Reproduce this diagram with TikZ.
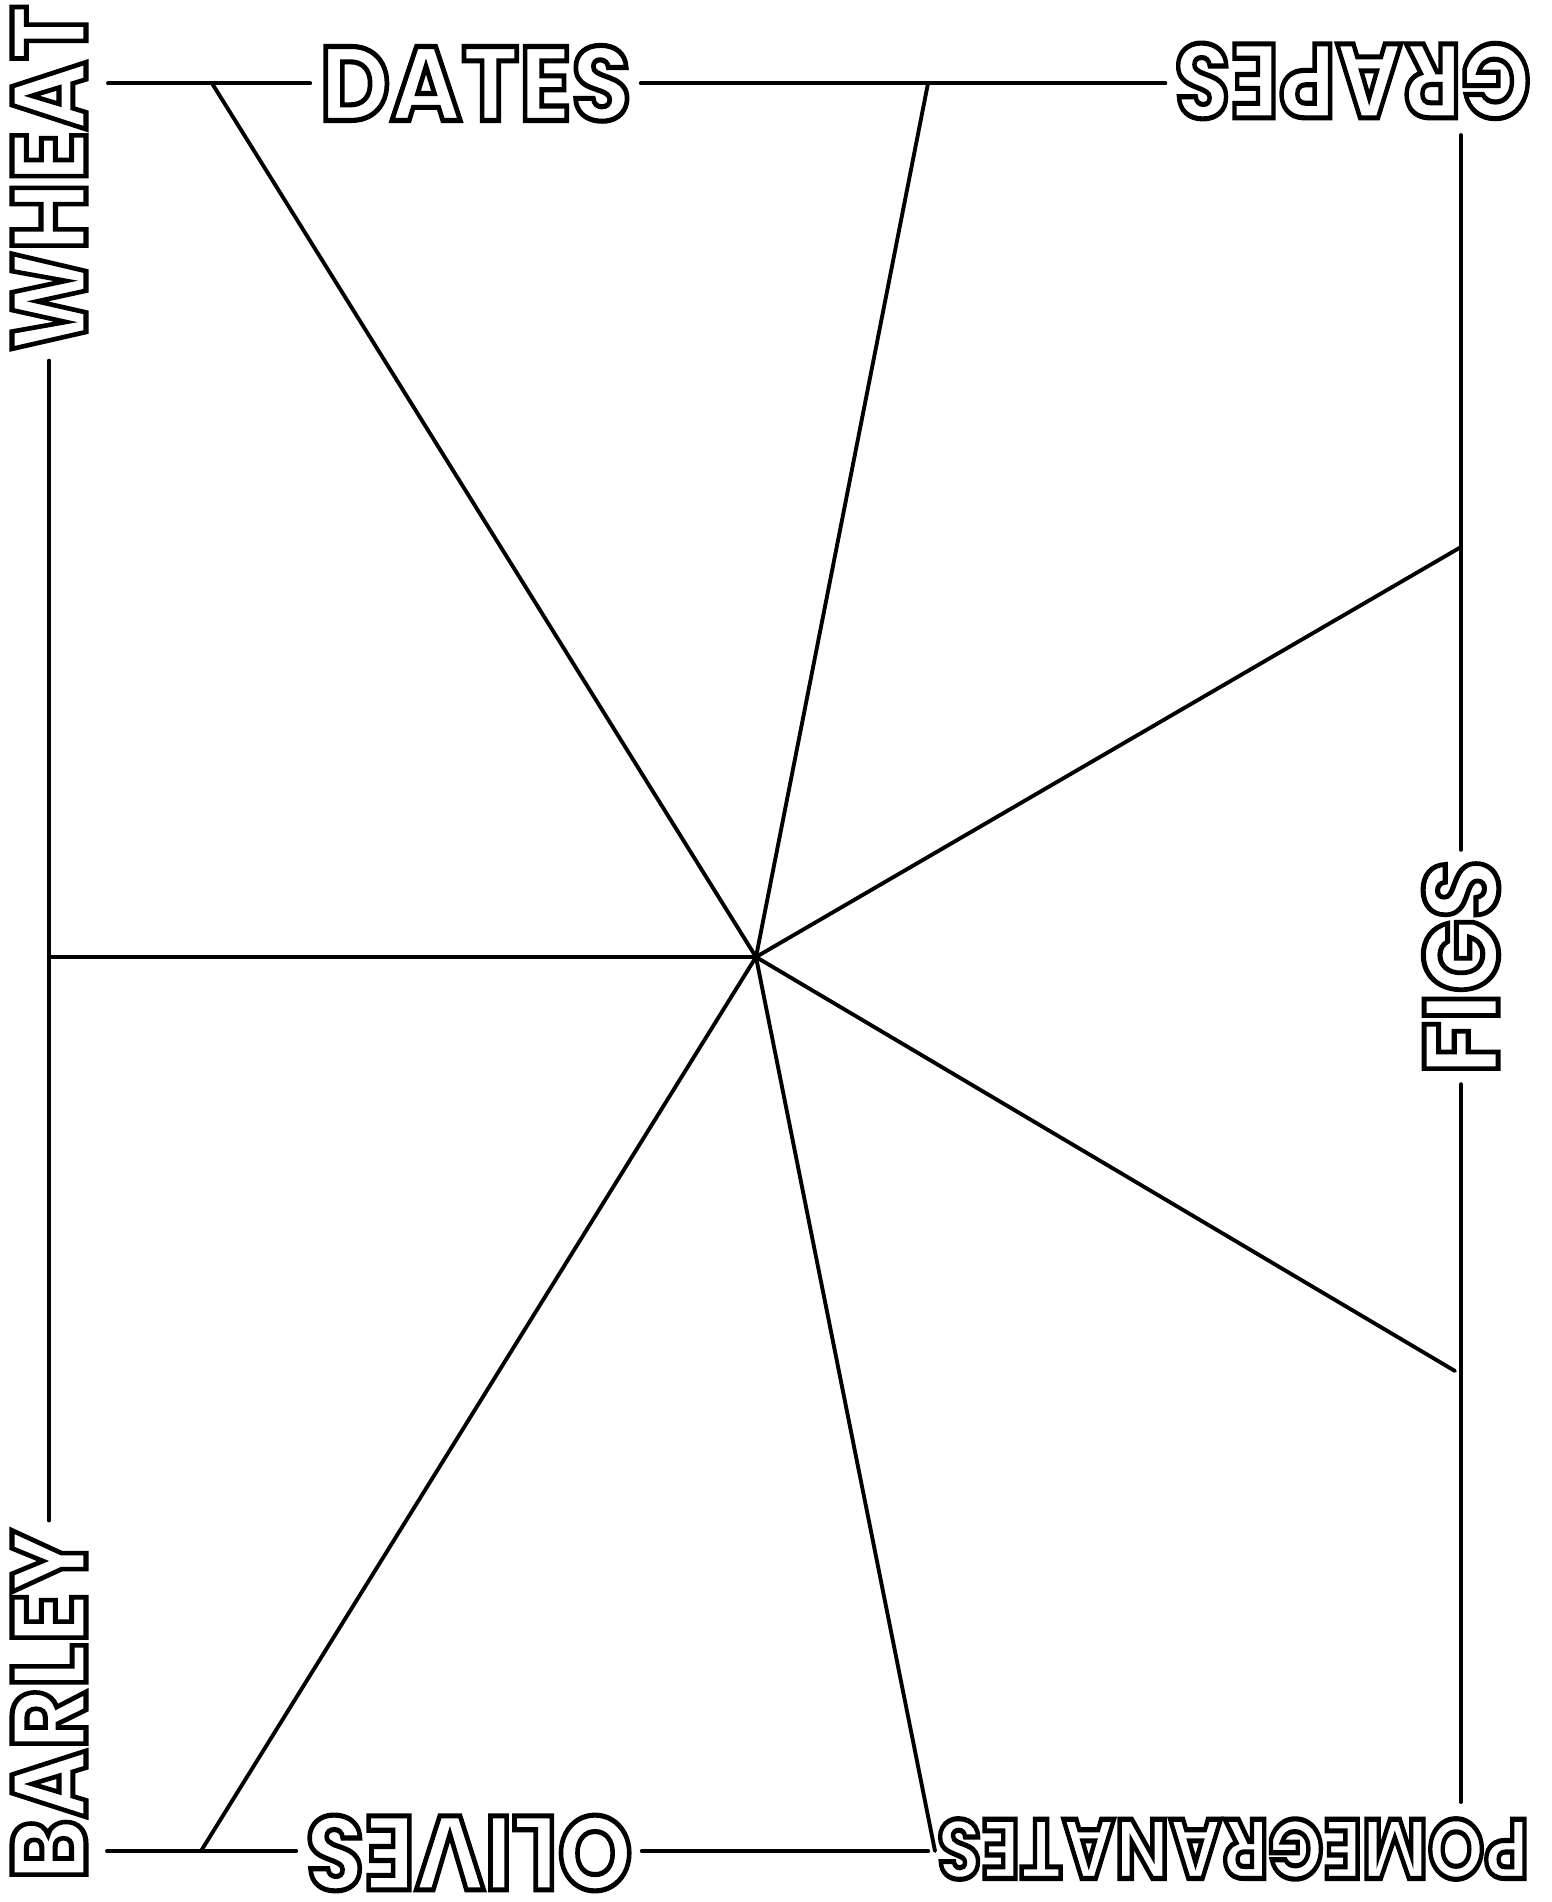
\documentclass[tikz,border=0pt]{standalone}
\usepackage{fontspec}
\usetikzlibrary{positioning,calc}
\newfontfamily\labelfont{Poppins}
% hollow letters: white fill, black stroke
\newcommand\hollow[1]{\special{pdf:literal direct 0 G 1 g 2 Tr 2.9 w}#1\special{pdf:literal direct 0 Tr}}

\begin{document}
\begin{tikzpicture}[
  lbl/.style={font=\labelfont\bfseries\fontsize{60}{60}\selectfont, text=white, inner sep=0.2cm},
  small lbl/.style={lbl, font=\labelfont\bfseries\fontsize{48}{48}\selectfont},
  rule/.style={black, line width=2.2pt, line cap=round},
]
\useasboundingbox (0,0) rectangle (31.02,-38.04);
% board: 1cm = 50px, y runs down
\coordinate (hub) at (15.12,-19.14);
\coordinate (c-tl) at (2.16,-1.666);
\coordinate (c-tr) at (29.22,-2.70);
\coordinate (c-bl) at (2.14,-37.02);
\coordinate (c-br) at (29.22,-36.04);

% labels round the board
\node[lbl, xscale=0.92] (dates) at (9.51,-1.666) {\hollow{DATES}};
\node[lbl, rotate=180, xscale=0.86] (grapes) at (27.05,-1.62) {\hollow{GRAPES}};
\node[lbl, rotate=90, xscale=0.9] (wheat) at (0.98,-3.56) {\hollow{WHEAT}};
\node[lbl, rotate=90, xscale=0.89] (barley) at (0.98,-34.1) {\hollow{BARLEY}};
\node[lbl, rotate=90, xscale=0.92] (figs) at (29.22,-19.34) {\hollow{FIGS}};
\node[lbl, rotate=180, xscale=0.9] (olives) at (9.38,-37.06) {\hollow{OLIVES}};
\node[small lbl, rotate=180, xscale=0.85] (pomegranates) at (24.66,-36.98) {\hollow{POMEGRANATES}};

% frame
\draw[rule] (c-tl) -- (c-tl -| dates.west);
\draw[rule] (c-tl -| dates.east) -- (c-tl -| grapes.east);
\draw[rule] (c-tr) -- (c-tr |- figs.east);
\draw[rule] (c-tr |- figs.west) -- (c-br);
\draw[rule] (wheat.west) -- (wheat.west |- barley.east);
\draw[rule] (c-bl) -- (c-bl -| olives.east);
\draw[rule] (c-bl -| olives.west) -- (c-bl -| pomegranates.east);

% spoke feet
\coordinate (f-dates) at (4.24,-1.666);
\coordinate (f-grapes) at (18.56,-1.666);
\coordinate (f-figsup) at (29.22,-10.94);
\coordinate (f-figsdn) at (29.1,-27.42);
\coordinate (f-pome) at (18.7,-37.02);
\coordinate (f-olives) at (4.02,-37.02);
\coordinate (f-wheat) at (0.98,-19.14);
\foreach \f in {f-dates,f-grapes,f-figsup,f-figsdn,f-pome,f-olives,f-wheat}
  \draw[rule] (hub) -- (\f);
\end{tikzpicture}
\end{document}
